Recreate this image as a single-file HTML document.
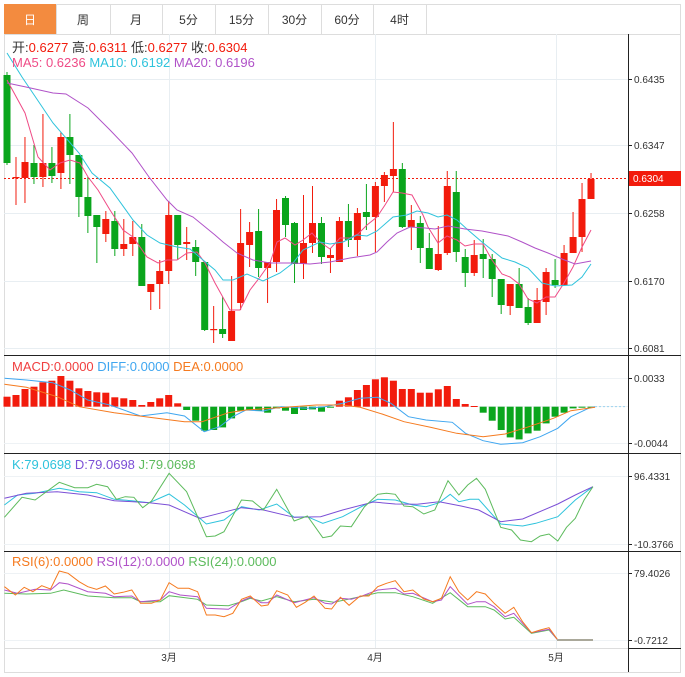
<!DOCTYPE html>
<html><head><meta charset="utf-8"><style>
body{margin:0;background:#fff;width:685px;height:677px;overflow:hidden;font-family:"Liberation Sans","Noto Sans CJK SC",sans-serif}
svg{position:absolute;left:0;top:0}
</style></head><body>
<svg id="s" width="685" height="677" xmlns="http://www.w3.org/2000/svg" font-family="Liberation Sans, Noto Sans CJK SC, sans-serif"></svg>
<script>
const S=document.getElementById('s');let h='';
const R='#f21b0c',G='#0aa51c';
function L(x1,y1,x2,y2,c,w,d){h+=`<line x1="${x1}" y1="${y1}" x2="${x2}" y2="${y2}" stroke="${c}" stroke-width="${w||1}" ${d?'stroke-dasharray="'+d+'"':''}/>`;}
function T(x,y,t,c,fs,a){h+=`<text x="${x}" y="${y}" fill="${c}" font-size="${fs||11}" ${a?'text-anchor="'+a+'"':''}>${t}</text>`;}
function P(pts,c,w){h+=`<polyline fill="none" stroke="${c}" stroke-width="${w||1}" points="${pts.map(p=>p[0].toFixed(1)+','+p[1].toFixed(1)).join(' ')}"/>`;}
h+=`<rect x="4.5" y="4.5" width="676" height="668" fill="none" stroke="#ddd"/>`;
const tabs=['日','周','月','5分','15分','30分','60分','4时'];const tx=[4,56,110,162,215,268,321,373,426];
h+=`<rect x="4" y="4" width="52" height="30" fill="#f38b3f"/>`;
tabs.forEach((t,i)=>{L(tx[i+1]+.5,4,tx[i+1]+.5,34,'#ddd');T((tx[i]+tx[i+1])/2,24,t,i==0?'#fff':'#333',12,'middle');});
L(4,34.5,681,34.5,'#ddd');
[79,145,213,281,348].forEach(y=>L(4,y+.5,628,y+.5,'#e8eef2'));
[378,406,443,476,544,573,640].forEach(y=>L(4,y+.5,628,y+.5,'#eef2f5'));
[169,375,556].forEach(x=>L(x+.5,34,x+.5,648,'#e8eef2'));
[355,453,551].forEach(y=>L(4,y+.5,681,y+.5,'#222'));
L(4,648.5,628,648.5,'#ddd');L(628,648.5,681,648.5,'#222');
L(628.5,34,628.5,672,'#222');
[[79,'0.6435'],[145,'0.6347'],[213,'0.6258'],[281,'0.6170'],[348,'0.6081'],[378,'0.0033'],[443,'-0.0044'],[476,'96.4331'],[544,'-10.3766'],[573,'79.4026'],[640,'-0.7212']].forEach(a=>{L(628,a[0]+.5,632,a[0]+.5,'#222');T(634,a[0]+4,a[1],'#333',10);});
[[169,'3月'],[375,'4月'],[556,'5月']].forEach(a=>T(a[0],661,a[1],'#333',10,'middle'));
const C=[[75,163,72,165],[178,177,157,205],[178,162,137,203],[163,177,145,184],[177,163,114,187],[163,176,147,183],[173,137,132,189],[137,155,114,184],[155,197,155,217],[197,216,177,233],[215,227,215,263],[234,219,211,242],[221,249,211,256],[249,244,219,256],[244,237,221,256],[237,286,224,286],[292,284,284,310],[284,271,260,309],[271,215,201,284],[215,245,215,260],[244,242,227,260],[247,262,240,276],[262,330,262,331],[330,329,306,343],[329,334,297,338],[341,311,276,341],[303,243,209,310],[245,232,222,267],[231,268,209,277],[268,262,262,303],[262,210,199,272],[198,225,196,237],[223,264,222,283],[264,243,195,279],[243,223,186,253],[223,257,217,264],[258,255,248,273],[262,221,217,262],[221,240,204,247],[240,213,208,256],[212,217,184,230],[217,186,182,252],[186,175,172,202],[176,169,122,192],[169,227,163,228],[227,220,205,250],[223,248,216,263],[248,269,233,269],[270,254,226,271],[253,186,171,255],[192,252,171,262],[257,273,249,287],[273,255,240,276],[254,259,239,278],[259,279,254,297],[279,305,279,314],[306,284,284,315],[284,308,268,308],[307,323,298,325],[323,300,288,323],[302,272,268,315],[280,285,259,288],[285,253,245,285],[253,237,212,253],[237,199,183,252],[199,179,173,199]];
L(4,178.5,628,178.5,R,1,'2,2');
C.forEach((c,i)=>{const x=7+i*8.985;const up=c[1]<c[0];const col=up?R:G;L(x,c[2],x,c[3],col,1);const t=Math.min(c[0],c[1]),b=Math.max(c[0],c[1]);h+=`<rect x="${(x-3.5).toFixed(1)}" y="${t}" width="7" height="${Math.max(b-t,1.2)}" fill="${col}"/>`;});
P([[7,80],[25,113],[38,157],[50,170],[60,163],[70,160],[80,163],[88,177],[98,190],[110,210],[123,230],[133,237],[147,257],[158,263],[167,260],[177,260],[187,253],[197,252],[205,263],[215,283],[230,310],[240,310],[250,290],[260,277],[270,263],[277,242],[285,238],[295,245],[303,240],[312,233],[320,242],[330,249],[340,238],[350,238],[358,234],[367,225],[377,217],[385,205],[393,192],[402,193],[412,195],[423,215],[428,227],[438,243],[447,236],[457,240],[465,246],[474,244],[483,244],[492,260],[502,274],[510,277],[519,284],[528,299],[537,303],[546,297],[555,297],[564,283],[573,267],[582,247],[591,230]],'#ef4b86');
P([[7,53],[22,77],[53,123],[79,153],[92,173],[110,188],[133,220],[147,235],[160,243],[177,247],[190,249],[203,260],[215,270],[223,280],[233,280],[247,274],[263,281],[280,273],[293,263],[303,250],[320,242],[330,244],[343,242],[357,235],[367,236],[377,231],[393,217],[407,215],[417,211],[428,213],[438,217],[447,215],[457,220],[468,230],[482,242],[502,258],[515,262],[528,268],[542,283],[555,286],[572,285],[582,277],[591,264]],'#2ec3dc');
P([[7,83],[26,87],[53,93],[66,94],[88,108],[110,130],[132,153],[149,177],[167,200],[177,210],[193,217],[215,235],[223,242],[237,253],[253,260],[270,263],[293,263],[310,264],[330,262],[350,258],[370,255],[377,252],[387,242],[397,233],[410,227],[425,228],[435,229],[448,226],[465,229],[482,231],[508,236],[522,242],[535,248],[548,253],[562,259],[575,264],[591,261]],'#b052c8');
h+=`<rect x="629" y="171" width="52" height="15" fill="${R}"/>`;T(633,182,'0.6304','#fff',10);
h+=`<text x="12" y="52" font-size="13" fill="#333">开:<tspan fill="${R}">0.6277</tspan>  高:<tspan fill="${R}">0.6311</tspan>  低:<tspan fill="${R}">0.6277</tspan>  收:<tspan fill="${R}">0.6304</tspan></text>`;
h+=`<text x="12" y="67" font-size="13"><tspan fill="#ef4b86">MA5: 0.6236</tspan>   <tspan fill="#2ec3dc">MA10: 0.6192</tspan>   <tspan fill="#b052c8">MA20: 0.6196</tspan></text>`;
const M=[620,615,597,590,577,572,558,572,595,603,607,608,622,625,630,645,636,625,615,640,660,692,722,720,712,685,662,660,662,668,655,662,672,660,658,665,652,632,622,600,585,568,562,572,597,597,608,608,598,588,627,642,648,668,692,720,742,748,730,722,700,680,668,655,652,651];
const z=190+650/3;
M.forEach((v,i)=>{const x=7+i*8.985;const y=190+v/3;const t=Math.min(y,z),b=Math.max(y,z);h+=`<rect x="${(x-3.5).toFixed(1)}" y="${t.toFixed(1)}" width="7" height="${Math.max(b-t,1).toFixed(1)}" fill="${y<z?R:G}"/>`;});
const cz=(a,oy)=>a.map(p=>[p[0]/2.277,oy+p[1]/3]);
P(cz([[10,565],[60,570],[120,578],[160,600],[200,630],[250,645],[320,678],[380,668],[420,678],[465,725],[500,710],[530,680],[560,660],[600,663],[640,650],[700,655],[740,650],[780,640],[820,625],[860,622],[890,640],[930,680],[970,690],[1030,697],[1060,730],[1100,752],[1140,763],[1190,758],[1230,740],[1270,715],[1300,680],[1340,655],[1355,650]],190),'#3fa6f0');
P(cz([[10,583],[60,592],[130,620],[180,650],[260,668],[340,682],[420,695],[460,695],[520,668],[560,660],[650,652],[720,645],[780,645],[820,652],[870,672],[920,695],[980,712],[1040,730],[1100,740],[1150,732],[1200,712],[1260,685],[1300,662],[1355,652]],190),'#f57a1f');
L(595,z,625,z,'#9cd3f0',1,'2,2');
h+=`<text x="12" y="371" font-size="13"><tspan fill="#f04040">MACD:0.0000</tspan>  <tspan fill="#3fa6f0">DIFF:0.0000</tspan>  <tspan fill="#f57a1f">DEA:0.0000</tspan></text>`;
P(cz([[10,195],[40,165],[80,160],[135,145],[180,155],[220,158],[260,178],[300,182],[340,188],[385,162],[420,195],[470,252],[510,240],[550,200],[590,210],[630,192],[670,232],[700,230],[735,250],[780,230],[830,195],[860,178],[900,180],[940,195],[970,200],[1000,188],[1025,163],[1045,185],[1070,178],[1090,178],[1140,252],[1190,258],[1220,250],[1270,230],[1310,180],[1350,140]],440),'#2ec3dc');
P(cz([[10,175],[60,160],[130,155],[200,165],[260,182],[340,188],[385,195],[455,235],[500,220],[550,203],[600,210],[670,232],[730,230],[780,210],[850,186],[900,192],[950,193],[1000,185],[1050,198],[1090,210],[1140,245],[1190,237],[1270,192],[1310,165],[1350,140]],440),'#7b4fd6');
P(cz([[10,232],[50,172],[80,180],[135,127],[170,143],[200,143],[220,133],[245,140],[265,178],[285,170],[305,172],[325,203],[345,183],[385,100],[425,155],[470,290],[490,288],[510,275],[550,180],[575,183],[600,210],[630,148],[670,243],[700,228],[735,293],[755,288],[775,258],[800,260],[830,200],[860,163],[880,160],[900,163],[920,198],[940,200],[965,222],[990,210],[1020,122],[1045,165],[1065,135],[1085,115],[1105,148],[1140,262],[1165,270],[1185,300],[1210,305],[1230,288],[1250,282],[1270,303],[1290,262],[1310,235],[1330,180],[1350,140]],440),'#5dbb5d');
h+=`<text x="12" y="469" font-size="13"><tspan fill="#2ec3dc">K:79.0698</tspan>  <tspan fill="#7b4fd6">D:79.0698</tspan>  <tspan fill="#5dbb5d">J:79.0698</tspan></text>`;
P(cz([[10,460],[60,462],[115,460],[145,450],[200,468],[260,473],[300,473],[320,485],[365,485],[385,467],[450,478],[470,495],[520,497],[550,485],[570,475],[595,483],[630,470],[670,485],[715,478],[760,487],[820,470],[860,458],[900,458],[940,470],[985,490],[1025,458],[1065,500],[1105,500],[1125,510],[1150,537],[1170,532],[1210,580],[1250,570],[1270,600],[1350,600]],440),'#5dbb5d');
P(cz([[10,450],[40,460],[80,448],[115,450],[135,428],[155,432],[200,455],[240,460],[260,470],[300,468],[320,485],[365,480],[385,455],[410,465],[450,470],[470,505],[520,508],[550,483],[570,472],[595,488],[610,488],[630,465],[670,488],[715,473],[740,490],[755,492],[775,475],[800,478],[820,470],[860,450],[900,445],[920,462],[940,460],[985,485],[1005,480],[1025,440],[1065,493],[1085,485],[1105,485],[1125,500],[1150,530],[1170,520],[1190,550],[1210,578],[1250,568],[1270,600]],440),'#b052c8');
P(cz([[10,440],[35,465],[55,442],[75,455],[95,437],[115,447],[135,393],[155,400],[180,425],[200,440],[220,448],[240,438],[260,462],[280,457],[300,450],[320,490],[345,490],[365,480],[385,428],[405,445],[430,445],[450,455],[470,525],[490,525],[510,530],[530,520],[550,478],[570,468],[595,498],[610,495],[630,452],[655,465],[675,502],[695,487],[715,468],[740,505],[755,507],[775,472],[795,496],[820,468],[840,468],[860,440],[880,430],[900,422],[920,455],[940,450],[965,477],[985,485],[1005,475],[1025,410],[1045,455],[1065,480],[1085,455],[1105,462],[1125,490],[1150,520],[1170,502],[1190,545],[1210,578],[1230,570],[1250,563],[1270,600]],440),'#f57a1f');
L(557,640,593,640,'#aaa89a',2);
h+=`<text x="12" y="566" font-size="13"><tspan fill="#f57a1f">RSI(6):0.0000</tspan>  <tspan fill="#b052c8">RSI(12):0.0000</tspan>  <tspan fill="#5dbb5d">RSI(24):0.0000</tspan></text>`;
S.innerHTML=h;
</script>
</body></html>
